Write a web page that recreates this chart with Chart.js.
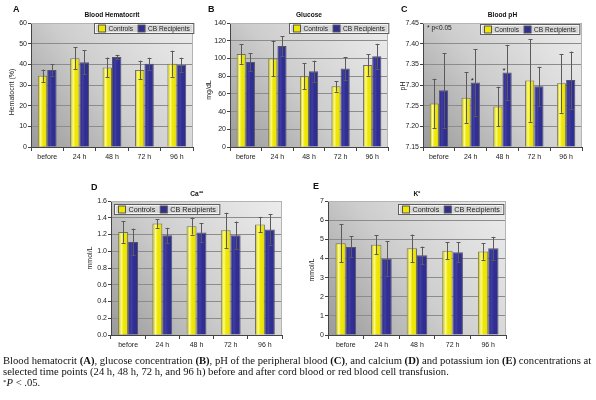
<!DOCTYPE html>
<html><head><meta charset="utf-8">
<script src="https://cdn.jsdelivr.net/npm/chart.js@4.4.1/dist/chart.umd.min.js"></script>
<style>
html,body{margin:0;padding:0;background:#fff;}
#wrap{position:relative;width:596px;height:400px;overflow:hidden;background:#fff;}
canvas{position:absolute;left:0;top:0;}
.cap{position:absolute;left:3px;font-family:"Liberation Serif","Times New Roman",serif;font-size:9.8px;line-height:11px;color:#111;white-space:nowrap;}
</style></head><body>
<div id="wrap">
<canvas id="cA" width="596" height="400"></canvas>
<canvas id="cB" width="596" height="400"></canvas>
<canvas id="cC" width="596" height="400"></canvas>
<canvas id="cD" width="596" height="400"></canvas>
<canvas id="cE" width="596" height="400"></canvas>
<div class="cap" id="l1" style="top:355px">Blood hematocrit <b>(A)</b>, glucose concentration <b>(B)</b>, pH of the peripheral blood <b>(C)</b>, and calcium <b>(D)</b> and potassium ion <b>(E)</b> concentrations at</div>
<div class="cap" id="l2" style="top:366px">selected time points (24 h, 48 h, 72 h, and 96 h) before and after cord blood or red blood cell transfusion.</div>
<div class="cap" id="l3" style="top:377px"><span style="position:relative;top:-2px;font-size:7px">*</span><i>P</i> &lt; .05.</div>
</div>
<script>
// ---------- data ----------
const categories = ['before', '24 h', '48 h', '72 h', '96 h'];
const seriesNames = ['Controls', 'CB Recipients'];

const hctControls    = [34.5, 43.0, 38.5, 37.3, 40.3];
const hctControlsErr = [3.0, 5.3, 4.8, 4.5, 6.3];
const hctCB          = [37.3, 41.0, 43.5, 40.3, 39.8];
const hctCBErr       = [2.8, 5.8, 1.1, 2.9, 3.4];
const hctTicks       = [0, 10, 20, 30, 40, 50, 60];

const gluControls    = [105, 100, 80, 68.5, 92.5];
const gluControlsErr = [11, 20, 14.5, 6, 12];
const gluCB          = [96, 114, 85.5, 88.5, 102.5];
const gluCBErr       = [10, 11, 12, 13, 14];
const gluTicks       = [0, 20, 40, 60, 80, 100, 120, 140];

const phControls     = [7.255, 7.269, 7.248, 7.311, 7.304];
const phControlsErr  = [0.060, 0.062, 0.048, 0.100, 0.071];
const phCB           = [7.287, 7.306, 7.330, 7.297, 7.312];
const phCBErr        = [0.090, 0.080, 0.067, 0.047, 0.069];
const phTicks        = [7.15, 7.20, 7.25, 7.30, 7.35, 7.40, 7.45];
const phCBSignificant = [false, true, true, false, false];

const caControls     = [1.23, 1.33, 1.30, 1.25, 1.32];
const caControlsErr  = [0.13, 0.05, 0.10, 0.21, 0.09];
const caCB           = [1.11, 1.19, 1.225, 1.19, 1.26];
const caCBErr        = [0.16, 0.09, 0.11, 0.165, 0.18];
const caTicks        = [0, 0.2, 0.4, 0.6, 0.8, 1.0, 1.2, 1.4, 1.6];

const kControls      = [4.79, 4.72, 4.53, 4.40, 4.36];
const kControlsErr   = [0.99, 0.49, 0.72, 0.44, 0.43];
const kCB            = [4.60, 4.00, 4.16, 4.32, 4.53];
const kCBErr         = [0.55, 0.90, 0.46, 0.52, 0.60];
const kTicks         = [0, 1, 2, 3, 4, 5, 6, 7];

// ---------- style / layout ----------
const YEL = '#efe700';
const BLU = '#312e93';
const SANS = '"Liberation Sans", Arial, Helvetica, sans-serif';

const panels = [
  {id:'cA', letter:'A', title:'Blood Hematocrit', yTitle:'Hematocrit (%)', ticks:hctTicks, dec:0,
   c:hctControls, ce:hctControlsErr, b:hctCB, be:hctCBErr,
   area:{l:31, r:193, t:23, b:147}, legend:{side:'right', dx:0, dy:0, fs:6.6},
   letterPos:[13, 10], titleY:15, yTitlePos:[12, 92]},
  {id:'cB', letter:'B', title:'Glucose', yTitle:'mg/dL', ticks:gluTicks, dec:0,
   c:gluControls, ce:gluControlsErr, b:gluCB, be:gluCBErr,
   area:{l:230, r:388, t:23, b:147}, legend:{side:'right', dx:0, dy:0, fs:6.6},
   letterPos:[208, 10], titleY:15, yTitlePos:[209, 90]},
  {id:'cC', letter:'C', title:'Blood pH', yTitle:'pH', ticks:phTicks, dec:2,
   c:phControls, ce:phControlsErr, b:phCB, be:phCBErr, sig:phCBSignificant, note:'* p<0.05',
   area:{l:423, r:582, t:23, b:147}, legend:{side:'right', dx:3, dy:1, fs:6.6},
   letterPos:[401, 10], titleY:15, yTitlePos:[403, 86]},
  {id:'cD', letter:'D', title:'Ca\u207A\u207A', yTitle:'mmol/L', ticks:caTicks, dec:1,
   c:caControls, ce:caControlsErr, b:caCB, be:caCBErr,
   area:{l:111, r:282, t:201, b:335}, legend:{side:'left', dx:3, dy:3, fs:7.2},
   letterPos:[91, 188], titleY:194, yTitlePos:[90, 258]},
  {id:'cE', letter:'E', title:'K\u207A', yTitle:'mmol/L', ticks:kTicks, dec:0,
   c:kControls, ce:kControlsErr, b:kCB, be:kCBErr,
   area:{l:328, r:506, t:201, b:335}, legend:{side:'right', dx:3, dy:3, fs:7.2},
   letterPos:[313, 187], titleY:194, yTitlePos:[312, 270]}
];

function panelPlugin(p) {
  return {
    id: 'panel' + p.letter,
    beforeDraw(chart) {
      const {ctx, chartArea: a} = chart;
      const g = ctx.createLinearGradient(a.left, a.bottom, a.right, a.top);
      g.addColorStop(0, '#9a9a9a');
      g.addColorStop(0.45, '#cdcdcd');
      g.addColorStop(0.8, '#e2e2e2');
      g.addColorStop(1, '#ececec');
      ctx.save();
      ctx.fillStyle = g;
      ctx.fillRect(a.left, a.top, a.right - a.left, a.bottom - a.top);
      ctx.restore();
    },
    afterDatasetsDraw(chart) {
      const {ctx, chartArea: a} = chart;
      const y = chart.scales.y;
      ctx.save();
      ctx.beginPath();
      ctx.rect(a.left, a.top, a.right - a.left, a.bottom - a.top);
      ctx.clip();
      chart.data.datasets.forEach((ds, di) => {
        const meta = chart.getDatasetMeta(di);
        meta.data.forEach((el, i) => {
          const half = el.width / 2;
          const top = Math.min(el.y, el.base), bot = Math.min(Math.max(el.y, el.base), a.bottom);
          const g = ctx.createLinearGradient(el.x - half, 0, el.x + half, 0);
          if (di === 0) {
            g.addColorStop(0, 'rgba(160,150,0,0.25)');
            g.addColorStop(0.3, 'rgba(255,255,190,0.85)');
            g.addColorStop(0.55, 'rgba(255,255,120,0.0)');
            g.addColorStop(1, 'rgba(150,140,0,0.2)');
          } else {
            g.addColorStop(0, 'rgba(20,20,80,0.2)');
            g.addColorStop(0.35, 'rgba(110,110,210,0.25)');
            g.addColorStop(0.6, 'rgba(60,60,160,0.0)');
            g.addColorStop(1, 'rgba(20,20,80,0.2)');
          }
          ctx.fillStyle = g;
          ctx.fillRect(el.x - half + 1, top + 1, el.width - 2, bot - top - 1);
        });
      });
      // error bars
      ctx.strokeStyle = '#5a5a5a';
      ctx.lineWidth = 1;
      chart.data.datasets.forEach((ds, di) => {
        const meta = chart.getDatasetMeta(di);
        meta.data.forEach((el, i) => {
          const v = ds.data[i], e = ds.err[i];
          const yt = y.getPixelForValue(v + e), yb = y.getPixelForValue(v - e);
          const x = Math.round(el.x) + 0.5;
          ctx.beginPath();
          ctx.moveTo(x, yt); ctx.lineTo(x, yb);
          ctx.moveTo(x - 2, Math.round(yt) + 0.5); ctx.lineTo(x + 2, Math.round(yt) + 0.5);
          ctx.moveTo(x - 2, Math.round(yb) + 0.5); ctx.lineTo(x + 2, Math.round(yb) + 0.5);
          ctx.stroke();
        });
      });
      // significance asterisks
      if (p.sig) {
        const meta = chart.getDatasetMeta(1);
        ctx.fillStyle = '#222';
        ctx.font = '8px ' + SANS;
        ctx.textAlign = 'center';
        ctx.textBaseline = 'middle';
        p.sig.forEach((s, i) => {
          if (!s) return;
          const el = meta.data[i];
          ctx.fillText('*', el.x - 3, el.y - 2);
        });
      }
      ctx.restore();
    },
    afterDraw(chart) {
      const {ctx, chartArea: a} = chart;
      ctx.save();
      // plot outline (top/right)
      ctx.strokeStyle = '#b4b4b4';
      ctx.lineWidth = 1;
      ctx.beginPath();
      ctx.moveTo(a.left, a.top + 0.5); ctx.lineTo(a.right - 0.5, a.top + 0.5); ctx.lineTo(a.right - 0.5, a.bottom);
      ctx.stroke();
      // legend
      ctx.font = p.legend.fs + 'px ' + SANS;
      const pad = 4, sw = 7, gap = 3, mid = 5, H = 10;
      const w1 = ctx.measureText(seriesNames[0]).width, w2 = ctx.measureText(seriesNames[1]).width;
      const W = pad + sw + gap + w1 + mid + sw + gap + w2 + pad;
      let lx = p.legend.side === 'right' ? a.right - p.legend.dx - W : a.left + p.legend.dx;
      let ly = a.top + p.legend.dy;
      lx = Math.round(lx) + 0.5; ly = Math.round(ly) + 0.5;
      ctx.fillStyle = '#d7d7d7';
      ctx.fillRect(lx, ly, W, H);
      ctx.strokeStyle = '#f4f4f4';
      ctx.strokeRect(lx + 1, ly + 1, W - 2, H - 2);
      ctx.strokeStyle = '#5e5e5e';
      ctx.strokeRect(lx, ly, W, H);
      let cx = lx + pad;
      const sy = ly + 1.5;
      ctx.fillStyle = YEL; ctx.fillRect(cx, sy, sw, sw);
      ctx.strokeStyle = '#555'; ctx.strokeRect(cx, sy, sw, sw);
      cx += sw + gap;
      ctx.fillStyle = '#222'; ctx.textAlign = 'left'; ctx.textBaseline = 'middle';
      ctx.fillText(seriesNames[0], cx, ly + H / 2 + 0.5);
      cx += w1 + mid;
      ctx.fillStyle = BLU; ctx.fillRect(cx, sy, sw, sw);
      ctx.strokeStyle = '#555'; ctx.strokeRect(cx, sy, sw, sw);
      cx += sw + gap;
      ctx.fillStyle = '#222';
      ctx.fillText(seriesNames[1], cx, ly + H / 2 + 0.5);
      // note
      if (p.note) {
        ctx.font = '6.6px ' + SANS;
        ctx.fillText(p.note, a.left + 4, a.top + 5);
      }
      // title
      ctx.fillStyle = '#111';
      ctx.font = 'bold 6.6px ' + SANS;
      ctx.textAlign = 'center';
      ctx.fillText(p.title, (a.left + a.right) / 2, p.titleY);
      // letter
      ctx.font = 'bold 9px ' + SANS;
      ctx.textAlign = 'left';
      ctx.fillText(p.letter, p.letterPos[0], p.letterPos[1]);
      // y title
      ctx.font = '7px ' + SANS;
      ctx.fillStyle = '#222';
      ctx.translate(p.yTitlePos[0], p.yTitlePos[1]);
      ctx.rotate(-Math.PI / 2);
      ctx.textAlign = 'center';
      ctx.fillText(p.yTitle, 0, 0);
      ctx.restore();
    }
  };
}

function makeChart(p) {
  const W = 596, H = 400, yW = 30, xH = 20;
  const tickFont = {family: SANS, size: 7};
  const yMin = p.ticks[0];
  new Chart(document.getElementById(p.id), {
    type: 'bar',
    data: {
      labels: categories,
      datasets: [
        {label: seriesNames[0], data: p.c, err: p.ce, base: yMin, backgroundColor: YEL, borderColor: '#707070', borderWidth: 1},
        {label: seriesNames[1], data: p.b, err: p.be, base: yMin, backgroundColor: BLU, borderColor: '#55556a', borderWidth: 1}
      ]
    },
    options: {
      responsive: false, animation: false, events: [],
      layout: {padding: {left: p.area.l - yW, right: W - p.area.r, top: p.area.t, bottom: H - p.area.b - xH}},
      plugins: {legend: {display: false}, title: {display: false}, tooltip: {enabled: false}},
      datasets: {bar: {categoryPercentage: 0.58, barPercentage: 1}},
      scales: {
        x: {
          grid: {display: true, drawOnChartArea: false, offset: true, tickLength: 4, tickColor: '#444', color: '#444'},
          border: {display: true, color: '#444'},
          ticks: {font: tickFont, color: '#222', padding: 2, maxRotation: 0, autoSkip: false},
          afterFit(s) { s.height = xH; }
        },
        y: {
          min: p.ticks[0], max: p.ticks[p.ticks.length - 1],
          afterBuildTicks(s) { s.ticks = p.ticks.map(v => ({value: v})); },
          grid: {color: '#8c8c8c', tickLength: 3, tickColor: '#444'},
          border: {display: true, color: '#444'},
          ticks: {font: tickFont, color: '#222', padding: 1, callback: v => Number(v).toFixed(p.dec)},
          afterFit(s) { s.width = yW; }
        }
      }
    },
    plugins: [panelPlugin(p)]
  });
}

panels.forEach(makeChart);

// fit caption width to the reference line width
(function () {
  const l1 = document.getElementById('l1');
  const target = 589;
  const w = l1.getBoundingClientRect().width;
  const fs = 9.8 * target / w;
  document.querySelectorAll('.cap').forEach(d => d.style.fontSize = fs.toFixed(2) + 'px');
})();
</script>
</body></html>
